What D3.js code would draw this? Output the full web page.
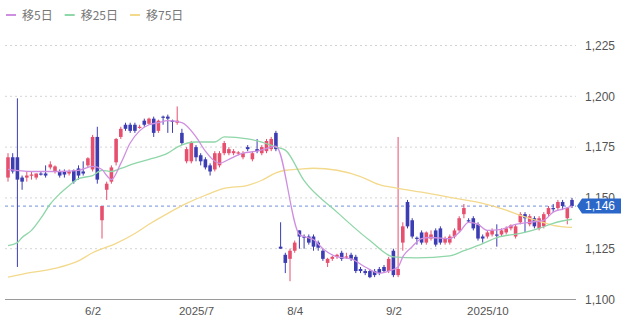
<!DOCTYPE html>
<html>
<head>
<meta charset="utf-8">
<script src="https://cdn.jsdelivr.net/npm/d3@7"></script>
<style>
  body { margin: 0; background: #fff; }
  svg { display: block; }
</style>
</head>
<body>
<svg id="chart" width="640" height="328"></svg>
<script>
// daily candles: [open, high, low, close]
const candles = [
  [1160,1172,1158,1170],[1170,1172,1162,1163],[1170,1199,1116,1159],[1160,1161,1154,1158],
  [1160,1163,1158,1161],[1161,1163,1159,1161.5],[1160,1162,1159,1162],[1162,1163,1161,1161.8],
  [1162,1166,1160,1161],[1165,1168,1164,1166.5],[1163,1166,1162,1165.5],[1163,1164,1160,1161],
  [1163,1164,1160,1161.5],[1162,1164,1161,1163],[1163.5,1164,1157,1158],[1164.5,1166,1159,1161],
  [1163,1168,1161,1162],[1166,1170,1165,1169.5],[1164,1181,1163,1180],[1180,1185,1157,1159],
  [1139,1146,1130,1146],[1154,1158,1149,1157],[1158,1166,1157,1165],[1167.5,1179.5,1166,1179],
  [1180,1185,1179,1184],[1186,1187,1183,1184],[1186,1187,1182,1183],[1186,1187,1182,1183],
  [1185,1186,1184,1185],[1188,1189,1185,1186],[1186.5,1189.5,1186,1189],[1189,1190,1180,1182],
  [1183,1188.5,1182,1188],[1190,1190.5,1186,1189.6],[1190,1191,1182,1189],[1188,1188.5,1182,1187.6],
  [1187,1195,1186,1188],[1182,1184,1176,1177],[1168,1175,1167,1174],[1168,1178,1167,1177],
  [1175,1176,1168,1170],[1171,1172,1166,1168],[1169,1170,1164,1165],[1166,1167,1161,1163],
  [1164,1173,1163,1172],[1166,1173,1165,1172],[1172,1178,1171,1177],[1172,1175,1171,1174],
  [1172,1174,1171,1173],[1172,1173,1171,1172.4],[1170,1173,1169,1172],[1175,1176,1173,1174],
  [1169,1173,1168,1172],[1174,1179,1172,1173],[1172,1176,1171,1175],[1173,1179,1172,1178],
  [1174,1180,1173,1179],[1182,1183,1173,1174],[1126,1138,1125,1125],[1122,1123,1113,1118],
  [1120,1125,1109,1124],[1124,1129,1123,1128],[1134,1134,1125,1131],[1131,1132,1125,1130.6],
  [1131,1132,1127,1128],[1131,1132,1124,1126],[1128,1129,1124,1125.5],[1124,1125,1119,1120],
  [1118,1120.5,1116,1120],[1120,1121.5,1119,1121],[1121,1122.5,1120,1122],[1123,1124,1119,1120],
  [1121,1123,1120,1121.2],[1122,1123,1119,1120],[1121,1122,1113,1114],[1115,1116,1113,1114],
  [1114,1115,1112,1113],[1114,1115,1110.5,1111],[1114,1115,1111,1112],[1115,1116,1112,1113],
  [1116,1117,1113,1114],[1114,1121,1113,1120],[1124,1125,1111,1112],[1112,1180,1111,1115],
  [1128,1138,1124,1136],[1148,1149,1135,1136],[1139,1140,1130,1131],[1130.4,1131,1127,1130],
  [1133,1134,1127,1128],[1128,1133.5,1127,1133],[1130,1134,1129,1132],[1134,1135,1126,1127],
  [1135,1136,1127,1128],[1128,1131,1127,1130],[1128,1132,1127,1131],[1131,1135,1130,1134],
  [1134,1141,1133,1140],[1142,1147,1140,1145],[1139,1140,1138,1138.6],[1140,1141,1134,1135],
  [1137,1138,1129,1130],[1131,1132,1128,1130],[1131,1134,1130,1133],[1132,1135,1131,1134],
  [1132,1137,1126,1131.6],[1132,1135,1131,1134],[1133,1136,1132,1135],[1135,1137,1134,1136.5],
  [1131,1137,1130,1136],[1138,1143,1137,1142],[1142,1143,1133,1140],[1137,1142,1136,1141],
  [1140,1141,1135,1136],[1135,1141,1134,1140],[1136,1143,1135,1142],[1142,1146,1141,1145],
  [1145,1147,1143,1144.5],[1145,1149,1144,1148],[1148,1149,1144,1146],[1140,1145.5,1137,1145],
  [1149,1150,1145,1146]
];

// moving averages: [candle index, value]
const ma5 = [[0,1164],[5,1163],[11,1163],[15,1163.5],[18,1165.5],[20,1164],[21,1161],[22,1159],
  [24,1167],[26,1177],[28,1183],[30,1186],[32,1187],[34,1188],[37,1187],[40,1180],[42,1173],
  [44,1168],[45,1167],[47,1169],[50,1172],[53,1173],[56,1175],[57,1175.5],[62,1132],[63,1131],
  [65,1129.5],[67,1125],[70,1121],[73,1120],[76,1116],[79,1113],[81,1114],[83,1116],[84,1121],
  [86,1126],[88,1130],[90,1130.5],[94,1130],[96,1133],[98,1138],[100,1137],[102,1134],
  [105,1134.5],[108,1137],[111,1138],[114,1139],[116,1143],[118,1144.5],[120,1146]];
const ma25 = [[0,1126.5],[2,1128],[3,1130.5],[5,1134],[7,1140],[9,1147],[11,1152],[13,1156],
  [15,1159.5],[18,1161],[20,1163.5],[22,1163],[24,1164.5],[27,1167],[30,1169],[34,1172],
  [36,1175],[40,1177.5],[44,1177.5],[46,1180],[51,1179],[54,1177.5],[57,1175],[59,1173.5],
  [63,1158.5],[70,1143],[77,1129],[82,1121],[87,1120.5],[94,1121.5],[97,1124],[101,1127.5],
  [104,1130.5],[109,1132.5],[113,1135],[116,1137.5],[120,1139.5]];
const ma75 = [[0,1111],[5,1113.3],[10,1115.3],[15,1119],[18,1123],[23,1127.6],[27,1132.5],
  [30,1137],[34,1142.4],[38,1147.3],[42,1151.3],[46,1154.7],[51,1156.2],[54,1158.7],[57,1162.3],
  [59,1163.6],[62,1164.2],[65,1164.6],[70,1163.6],[75,1160.5],[79,1156.5],[83,1154.7],
  [88,1152.8],[94,1150.3],[101,1147.3],[106,1144],[109,1141.4],[113,1138.5],[116,1136.5],
  [120,1135.5]];

const yTicks = [1100, 1125, 1150, 1175, 1200, 1225];
const xTickIndex = [18, 40, 61, 82, 102];
const xTickLabels = ['6/2', '2025/7', '8/4', '9/2', '2025/10'];
const lastPrice = 1146;
const legendNames = ['移5日', '移25日', '移75日'];

const upColor = '#e6506e';
const downColor = '#3d3db3';
const maColors = ['#cf8fe0', '#8fd6a8', '#f3d98c'];
const numFont = '"Liberation Sans", Arial, sans-serif';

const svg = d3.select('#chart');

const x = d3.scaleLinear().domain([0, candles.length - 1]).range([8, 572]);
const y = d3.scaleLinear().domain([1100, 1225]).range([299.5, 45.5]);
const bodyW = 3.6;

// grid
svg.append('g')
  .selectAll('line')
  .data(yTicks.filter(d => d > 1100))
  .join('line')
  .attr('x1', 5).attr('x2', 576)
  .attr('y1', d => y(d)).attr('y2', d => y(d))
  .attr('stroke', '#d4d4d4')
  .attr('stroke-dasharray', '2,3');

svg.append('line')
  .attr('x1', 5).attr('x2', 576)
  .attr('y1', y(1100)).attr('y2', y(1100))
  .attr('stroke', '#9a9a9a');

// current price line
svg.append('line')
  .attr('x1', 5).attr('x2', 576)
  .attr('y1', y(lastPrice)).attr('y2', y(lastPrice))
  .attr('stroke', '#8da6e4')
  .attr('stroke-width', 1.3)
  .attr('stroke-dasharray', '3,3');

// candles
const cg = svg.append('g');
candles.forEach((c, i) => {
  const [o, h, l, cl] = c;
  const col = cl >= o ? upColor : downColor;
  const cx = x(i);
  cg.append('line')
    .attr('x1', cx).attr('x2', cx)
    .attr('y1', y(h)).attr('y2', y(l))
    .attr('stroke', col).attr('stroke-width', 1);
  const top = y(Math.max(o, cl));
  const bh = Math.max(1.2, y(Math.min(o, cl)) - top);
  cg.append('rect')
    .attr('x', cx - bodyW / 2).attr('y', top)
    .attr('width', bodyW).attr('height', bh)
    .attr('fill', col);
});

// moving averages
const line = d3.line()
  .x(d => x(d[0]))
  .y(d => y(d[1]))
  .curve(d3.curveMonotoneX);

[ma75, ma25, ma5].forEach((s, k) => {
  svg.append('path')
    .datum(s)
    .attr('d', line)
    .attr('fill', 'none')
    .attr('stroke', maColors[2 - k])
    .attr('stroke-width', 1.3);
});

// y axis labels
const yAxis = svg.append('g')
  .attr('transform', 'translate(579,0)')
  .call(d3.axisRight(y).tickValues(yTicks).tickFormat(d3.format(',')).tickSize(0).tickPadding(6));
yAxis.select('.domain').remove();
yAxis.selectAll('text')
  .attr('fill', '#555')
  .style('font-family', numFont)
  .style('font-size', '12px');

// x axis labels
const xAxis = svg.append('g')
  .attr('transform', 'translate(0,300)')
  .call(d3.axisBottom(x).tickValues(xTickIndex).tickFormat((d, i) => xTickLabels[i]).tickSize(0).tickPadding(7));
xAxis.select('.domain').remove();
xAxis.selectAll('text')
  .attr('fill', '#555')
  .style('font-family', numFont)
  .style('font-size', '11.5px');

// price tag
const ty = y(lastPrice);
svg.append('path')
  .attr('d', `M577,${ty} L582,${ty - 7.5} L621,${ty - 7.5} L621,${ty + 7.5} L582,${ty + 7.5} Z`)
  .attr('fill', '#2b67c8');
svg.append('text')
  .attr('x', 585).attr('y', ty + 4.3)
  .attr('fill', '#fff')
  .style('font-family', numFont)
  .style('font-size', '12px')
  .text(d3.format(',')(lastPrice));

// legend
const lg = svg.append('g');
let lx = 6;
legendNames.forEach((name, i) => {
  lg.append('line')
    .attr('x1', lx).attr('x2', lx + 10)
    .attr('y1', 15).attr('y2', 15)
    .attr('stroke', maColors[i]).attr('stroke-width', 2);
  const t = lg.append('text')
    .attr('x', lx + 16).attr('y', 19.5)
    .attr('fill', '#777')
    .style('font-family', '"Noto Sans CJK JP", sans-serif')
    .style('font-size', '12px')
    .text(name);
  lx += 16 + t.node().getComputedTextLength() + 12;
});
</script>
</body>
</html>
